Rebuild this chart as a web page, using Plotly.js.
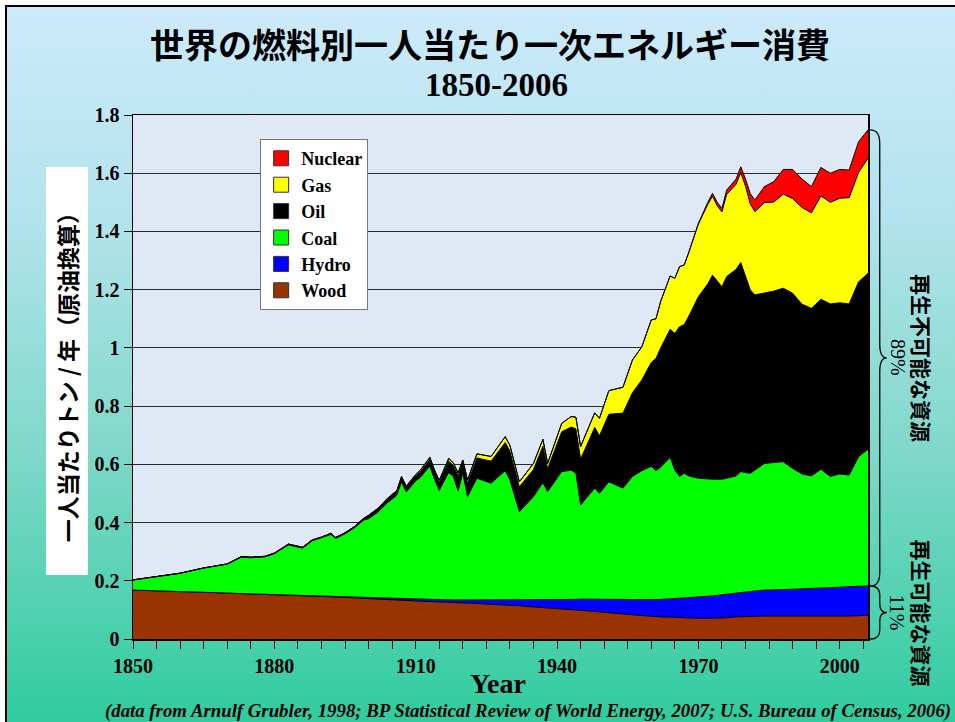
<!DOCTYPE html>
<html>
<head>
<meta charset="utf-8">
<script src="https://cdn.plot.ly/plotly-3.0.1.min.js"></script>
<style>
  html, body { margin: 0; padding: 0; background: #ffffff; }
  #slide {
    position: absolute; left: 5px; top: 5px; width: 950px; height: 717px;
    border-left: 2px solid #000; border-top: 2px solid #000;
    background: linear-gradient(to bottom, #cdeafa 0%, #b2e3ec 30%, #7fd8c9 62%, #2fcc9d 100%);
  }
  #chart { position: absolute; left: 0; top: 0; width: 955px; height: 722px; }
</style>
</head>
<body>
<div id="slide"></div>
<div id="chart"></div>
<script>
// Per-capita primary energy use by fuel, tonnes of oil equivalent per person per year
const years = [1850,1855,1860,1865,1870,1873,1875,1878,1880,1883,1886,1888,1890,1892,1893,1895,1897,1899,
  1900,1902,1904,1906,1907,1908,1910,1911,1913,1914,1915,1917,1918,1919,1920,1921,1923,1926,1929,1930,
  1932,1935,1937,1938,1941,1943,1944,1945,1948,1949,1951,1954,1956,1958,1960,1961,1962,1964,1965,1966,
  1967,1968,1970,1972,1973,1974,1975,1976,1978,1979,1980,1981,1982,1984,1986,1988,1990,1992,1994,1996,
  1998,2000,2002,2004,2006];

const wood = [.168,.166,.163,.161,.158,.156,.155,.153,.152,.150,.148,.147,.146,.145,.144,.143,.141,.140,
  .139,.137,.136,.134,.133,.133,.131,.130,.129,.128,.127,.126,.125,.125,.124,.123,.122,.119,.117,.116,
  .114,.110,.108,.106,.103,.101,.100,.099,.095,.093,.091,.086,.083,.080,.077,.076,.076,.075,.074,.073,
  .073,.072,.071,.071,.071,.072,.072,.073,.076,.077,.078,.078,.078,.079,.079,.078,.077,.077,.077,.077,
  .077,.077,.079,.080,.082];

const hydro = [0,0,0,0,0,0,0,0,0,0,0,0,0,0,0,0,.001,.002,
  .002,.003,.003,.004,.004,.004,.005,.006,.006,.007,.007,.008,.009,.009,.010,.011,.012,.015,.017,.018,
  .020,.024,.026,.028,.032,.035,.036,.038,.042,.044,.047,.050,.052,.055,.057,.059,.060,.063,.065,.066,
  .068,.069,.072,.075,.077,.078,.080,.081,.083,.084,.085,.086,.087,.089,.091,.092,.094,.095,.097,.098,
  .100,.101,.101,.101,.100];

const coal = [.035,.049,.063,.083,.099,.125,.124,.129,.141,.173,.164,.190,.201,.214,.201,.218,.240,.267,
  .272,.296,.329,.356,.403,.368,.407,.419,.459,.413,.376,.438,.424,.374,.436,.355,.418,.401,.444,.412,
  .303,.355,.403,.372,.440,.444,.434,.323,.381,.363,.402,.382,.423,.443,.459,.443,.454,.486,.441,.419,
  .428,.419,.409,.403,.401,.399,.397,.398,.401,.414,.409,.405,.415,.435,.436,.439,.415,.395,.386,.408,
  .381,.389,.383,.445,.470];

const oil = [0,0,0,0,.001,.002,.002,.002,.002,.003,.003,.003,.003,.004,.004,.004,.004,.006,
  .010,.011,.012,.013,.014,.016,.017,.019,.023,.025,.027,.039,.038,.052,.035,.046,.070,.076,.097,.099,
  .086,.093,.125,.079,.137,.148,.152,.158,.209,.198,.232,.258,.288,.312,.357,.386,.410,.440,.470,.515,
  .511,.550,.624,.671,.701,.681,.661,.693,.710,.718,.678,.631,.602,.585,.589,.596,.602,.583,.576,.584,
  .593,.588,.588,.601,.604];

const gas = [0,0,0,0,0,0,0,0,0,0,0,0,0,0,0,0,0,0,
  .002,.002,.003,.003,.004,.004,.005,.006,.007,.007,.008,.009,.009,.010,.010,.011,.014,.016,.020,.020,
  .017,.021,.024,.018,.029,.036,.040,.043,.050,.060,.081,.089,.112,.114,.146,.136,.160,.183,.189,.206,
  .205,.220,.249,.273,.271,.258,.257,.282,.292,.309,.305,.295,.286,.311,.306,.323,.325,.332,.328,.355,
  .349,.359,.365,.376,.395];

const nuclear = [0,0,0,0,0,0,0,0,0,0,0,0,0,0,0,0,0,0,
  0,0,0,0,0,0,0,0,0,0,0,0,0,0,0,0,0,0,0,0,
  0,0,0,0,0,0,0,0,0,0,0,0,0,0,0,0,0,0,0,0,
  0,0,.003,.007,.010,.012,.012,.015,.018,.020,.025,.035,.040,.055,.070,.085,.100,.098,.090,.098,
  .100,.099,.095,.105,.098];

const fuelNames  = ['Wood', 'Hydro', 'Coal', 'Oil', 'Gas', 'Nuclear'];
const fuelValues = [wood, hydro, coal, oil, gas, nuclear];
const fuelColors = ['#993300', '#0000ff', '#00ff00', '#000000', '#ffff00', '#ff0000'];

const SERIF = 'Liberation Serif, Times New Roman, serif';
const JP = 'Noto Sans CJK JP, sans-serif';
const Y_MAX = 1.8;

// stacked areas, bottom to top
const traces = fuelNames.map((name, i) => ({
  x: years, y: fuelValues[i], name: name, type: 'scatter', mode: 'lines',
  stackgroup: 'fuel', fillcolor: fuelColors[i],
  line: { color: '#000000', width: 1 }, showlegend: false, hoverinfo: 'skip'
}));

// legend entries with square swatches, top fuel first
for (let i = fuelNames.length - 1; i >= 0; i--) {
  traces.push({
    x: [null], y: [null], type: 'scatter', mode: 'markers', name: '<b>' + fuelNames[i] + '</b>',
    marker: { symbol: 'square', size: 15, color: fuelColors[i], line: { color: '#333', width: 1 } },
    showlegend: true, hoverinfo: 'skip'
  });
}

// renewable / non-renewable split in the final year
const last = years.length - 1;
const renewTop = wood[last] + hydro[last];
const totalTop = fuelValues.reduce((s, arr) => s + arr[last], 0);

function brace(v0, v1) {
  const y0 = v0 / Y_MAX, y1 = v1 / Y_MAX;
  const xa = 1.003, xb = 1.016, xc = 1.0255;
  const ym = (y0 + y1) / 2;
  const r = Math.min(0.026, (y1 - y0) / 6);
  return `M${xa},${y1} Q${xb},${y1} ${xb},${y1 - r} L${xb},${ym + r} Q${xb},${ym} ${xc},${ym} ` +
         `Q${xb},${ym} ${xb},${ym - r} L${xb},${y0 + r} Q${xb},${y0} ${xa},${y0}`;
}

function label(x, y, text, font, extra) {
  return Object.assign({ xref: 'paper', yref: 'paper', x: x, y: y, xanchor: 'center', yanchor: 'middle',
    showarrow: false, text: text, font: font }, extra || {});
}

const tickFont = { family: SERIF, size: 20, color: '#000', weight: 'bold' };

const layout = {
  width: 955, height: 722,
  margin: { l: 133, r: 87, t: 115, b: 83 },
  paper_bgcolor: 'rgba(0,0,0,0)',
  plot_bgcolor: '#dfe9f5',
  hovermode: false,
  showlegend: true,
  legend: {
    x: 0.173, y: 0.954, xanchor: 'left', yanchor: 'top',
    bgcolor: '#ffffff', bordercolor: '#777777', borderwidth: 1,
    font: { family: SERIF, size: 18, color: '#000', weight: 'bold' },
    traceorder: 'normal', tracegroupgap: 0, itemwidth: 30
  },
  xaxis: {
    range: [1850, 2006], tickmode: 'linear', tick0: 1850, dtick: 30,
    ticks: 'outside', ticklen: 8, tickwidth: 1, tickcolor: '#000',
    showline: true, linecolor: '#000', linewidth: 1.5, mirror: true,
    showgrid: false, zeroline: false, tickfont: tickFont,
    minor: { tick0: 1850, dtick: 5, ticks: 'outside', ticklen: 8, tickwidth: 1, tickcolor: '#000', showgrid: false }
  },
  yaxis: {
    range: [0, Y_MAX], tickmode: 'linear', tick0: 0, dtick: 0.2,
    ticks: 'outside', ticklen: 8, tickwidth: 1, tickcolor: '#000',
    showline: true, linecolor: '#000', linewidth: 1.5, mirror: true,
    showgrid: true, gridcolor: '#2a2a2a', gridwidth: 1, zeroline: false, tickfont: tickFont
  },
  shapes: [
    { type: 'rect', xref: 'paper', yref: 'paper', x0: -0.1184, x1: -0.0612, y0: 0.122, y1: 0.901,
      fillcolor: '#ffffff', line: { width: 0 }, layer: 'above' },
    { type: 'path', xref: 'paper', yref: 'paper', path: brace(renewTop, totalTop),
      line: { color: '#000', width: 1.3 } },
    { type: 'path', xref: 'paper', yref: 'paper', path: brace(0, renewTop),
      line: { color: '#000', width: 1.3 } }
  ],
  annotations: [
    label(0.486, 1.137, '<b>世界の燃料別一人当たり一次エネルギー消費</b>',
      { family: JP, size: 34, color: '#000', weight: 'bold' }),
    label(0.495, 1.057, '<b>1850-2006</b>',
      { family: SERIF, size: 33, color: '#000', weight: 'bold' }),
    label(-0.0898, 0.511, '<b>一人当たりトン / 年（原油換算）</b>',
      { family: JP, size: 23, color: '#000', weight: 'bold' }, { textangle: -90 }),
    label(0.497, -0.084, '<b>Year</b>',
      { family: SERIF, size: 28, color: '#000', weight: 'bold' }),
    label(1.1156, -0.137,
      '<b><i>(data from Arnulf Grubler, 1998; BP Statistical Review of World Energy, 2007; U.S. Bureau of Census, 2006)</i></b>',
      { family: SERIF, size: 18.8, color: '#000', weight: 'bold' }, { xanchor: 'right' }),
    label(1.0735, (renewTop + totalTop) / 2 / Y_MAX, '<b>再生不可能な資源</b>',
      { family: JP, size: 21, color: '#000', weight: 'bold' }, { textangle: 90 }),
    label(1.0408, (renewTop + totalTop) / 2 / Y_MAX, '89%',
      { family: SERIF, size: 20, color: '#000' }, { textangle: 90 }),
    label(1.0735, renewTop / 2 / Y_MAX, '<b>再生可能な資源</b>',
      { family: JP, size: 21, color: '#000', weight: 'bold' }, { textangle: 90 }),
    label(1.0408, renewTop / 2 / Y_MAX, '11%',
      { family: SERIF, size: 20, color: '#000' }, { textangle: 90 })
  ]
};

Plotly.newPlot('chart', traces, layout, { staticPlot: true, displayModeBar: false });
</script>
</body>
</html>
